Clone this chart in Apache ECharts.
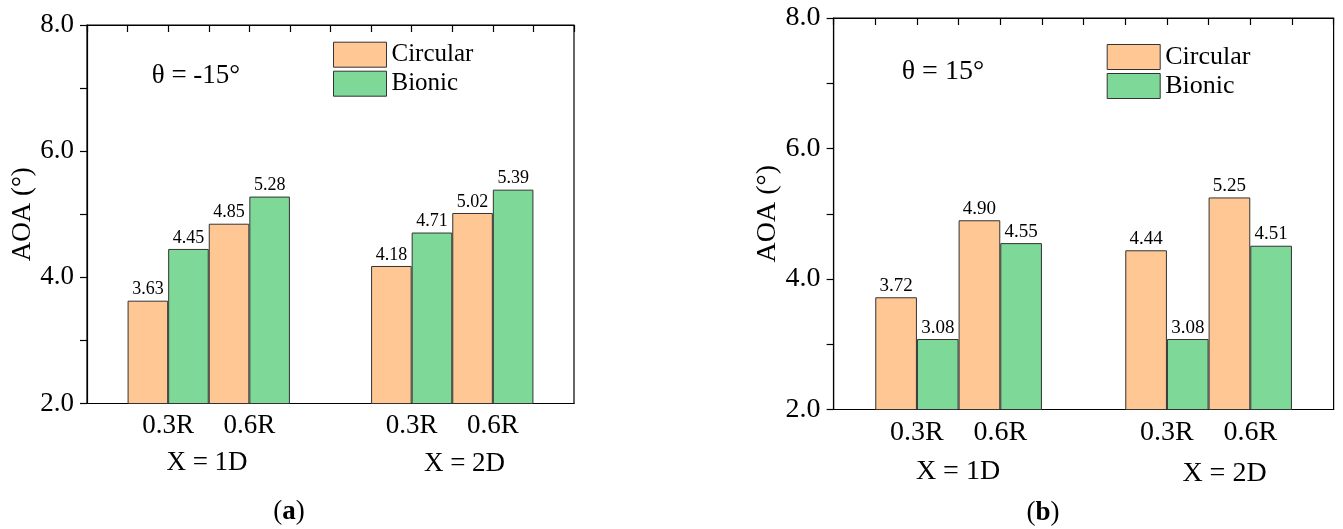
<!DOCTYPE html>
<html>
<head>
<meta charset="utf-8">
<script src="https://cdn.jsdelivr.net/npm/echarts@6/dist/echarts.min.js"></script>
<style>
  html, body { margin: 0; padding: 0; background: #fff; }
  #main { width: 1343px; height: 529px; }
</style>
</head>
<body>
<div id="main"></div>
<script>
// AOA bar charts, two panels
var myChart = echarts.init(document.getElementById('main'));

var FONT = "Liberation Serif";

// category slots: empty slots give the gaps at the edges and between groups
var slots = ['', '0.3R', '0.6R', '', '0.3R', '0.6R', ''];
var groupNames = ['X = 1D', 'X = 2D'];
var seriesNames = ['Circular', 'Bionic'];
var yTicks = [2, 4, 6, 8];

// panel (a), theta = -15
var circularA = ['-', 3.63, 4.85, '-', 4.18, 5.02, '-'];
var bionicA = ['-', 4.45, 5.28, '-', 4.71, 5.39, '-'];
// panel (b), theta = 15
var circularB = ['-', 3.72, 4.90, '-', 4.44, 5.25, '-'];
var bionicB = ['-', 3.08, 4.55, '-', 3.08, 4.51, '-'];

var colors = ['#FFC794', '#7ED898'];

function bottomAxis(gi, fs) {
    return {
        type: 'category', gridIndex: gi, data: slots, boundaryGap: false,
        axisLine: { lineStyle: { color: '#000', width: 1.2 } },
        axisTick: { show: false },
        axisLabel: { interval: 0, color: '#000', fontFamily: FONT, fontSize: fs, margin: 9 },
        splitLine: { show: false }
    };
}
function topAxis(gi) {
    return {
        type: 'value', gridIndex: gi, position: 'top', min: 0, max: slots.length - 1, interval: 0.5,
        axisLine: { show: true, lineStyle: { color: '#000', width: 1.2 } },
        axisTick: { inside: true, length: 7, lineStyle: { color: '#000', width: 1.2 } },
        axisLabel: { show: false },
        splitLine: { show: false }
    };
}
function leftAxis(gi, fs, gap) {
    return {
        type: 'value', gridIndex: gi, min: yTicks[0], max: yTicks[yTicks.length - 1], interval: 2,
        name: 'AOA (°)', nameLocation: 'middle', nameGap: gap,
        nameTextStyle: { color: '#000', fontFamily: FONT, fontSize: fs },
        axisLine: { show: true, lineStyle: { color: '#000', width: 1.2 } },
        axisTick: { show: true, length: 7, lineStyle: { color: '#000', width: 1.2 } },
        minorTick: { show: true, splitNumber: 2, length: 7, lineStyle: { color: '#000', width: 1.2 } },
        axisLabel: { color: '#000', fontFamily: FONT, fontSize: fs, margin: 13,
            formatter: function (v) { return v.toFixed(1); } },
        splitLine: { show: false }
    };
}
function barSeries(name, data, xi, yi, color, fs) {
    return {
        name: name, type: 'bar', xAxisIndex: xi, yAxisIndex: yi, data: data,
        barGap: '0%', barCategoryGap: '0%',
        itemStyle: { color: color, borderColor: '#333', borderWidth: 1 },
        label: { show: true, position: 'top', distance: 2, color: '#000',
            fontFamily: FONT, fontSize: fs,
            formatter: function (p) { return p.value.toFixed(2); } },
        emphasis: { disabled: true }
    };
}
function legendAt(left, top, fs) {
    return {
        data: seriesNames, orient: 'vertical', left: left, top: top,
        itemWidth: 53, itemHeight: 25, itemGap: 3, icon: 'rect', padding: 0,
        textStyle: { color: '#000', fontFamily: FONT, fontSize: fs },
        itemStyle: { borderColor: '#333', borderWidth: 1 }
    };
}
function txt(x, y, s, fs, align) {
    return {
        type: 'text', x: x, y: y, silent: true,
        style: { text: s, fill: '#000', fontFamily: FONT, fontSize: fs,
            align: align || 'center', verticalAlign: 'middle' }
    };
}
function panelTag(x, y, letter) {
    return {
        type: 'text', x: x, y: y, silent: true,
        style: {
            text: '{n|(}{b|' + letter + '}{n|)}', align: 'center', verticalAlign: 'middle',
            rich: {
                n: { fontFamily: FONT, fontSize: 27, fill: '#000', color: '#000' },
                b: { fontFamily: FONT, fontSize: 27, fontWeight: 'bold', fill: '#000', color: '#000' }
            }
        }
    };
}

var option = {
    backgroundColor: '#fff',
    animation: false,
    grid: [
        { left: 87, top: 25, width: 487, height: 378.5, show: true, borderColor: '#000', borderWidth: 1.2 },
        { left: 833.6, top: 18, width: 500, height: 391.5, show: true, borderColor: '#000', borderWidth: 1.2 }
    ],
    legend: [legendAt(333, 41.7, 25), legendAt(1106.7, 44, 26)],
    xAxis: [bottomAxis(0, 27), topAxis(0), bottomAxis(1, 28), topAxis(1)],
    yAxis: [leftAxis(0, 27, 50), leftAxis(1, 28, 51)],
    series: [
        barSeries(seriesNames[0], circularA, 0, 0, colors[0], 18),
        barSeries(seriesNames[1], bionicA, 0, 0, colors[1], 18),
        barSeries(seriesNames[0], circularB, 2, 1, colors[0], 19),
        barSeries(seriesNames[1], bionicB, 2, 1, colors[1], 19)
    ],
    graphic: [
        txt(207, 463, groupNames[0], 27),
        txt(464.5, 464, groupNames[1], 27),
        txt(958, 472, groupNames[0], 28),
        txt(1224.5, 474, groupNames[1], 28),
        txt(151.7, 76, 'θ = -15°', 27, 'left'),
        txt(901.7, 72, 'θ = 15°', 28, 'left'),
        panelTag(289, 512, 'a'),
        panelTag(1043, 513, 'b')
    ]
};

myChart.setOption(option);
</script>
</body>
</html>
